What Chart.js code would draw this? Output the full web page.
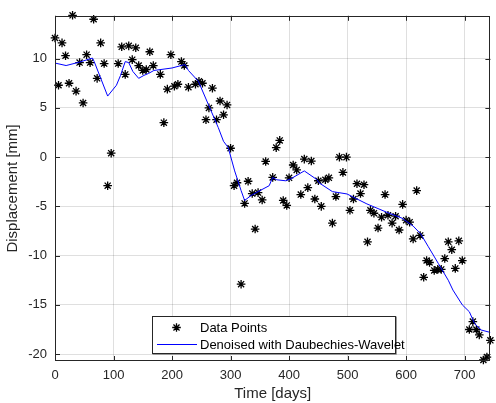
<!DOCTYPE html>
<html><head><meta charset="utf-8">
<script src="https://cdn.jsdelivr.net/npm/chart.js@4.4.1/dist/chart.umd.min.js"></script>
<style>html,body{margin:0;padding:0;background:#fff;}canvas{display:block;}</style>
</head><body>
<canvas id="c" width="496" height="403"></canvas>
<script>
const days = [0,6,12,18,24,30,36,42,48,54,60,66,72,78,84,90,96,108,114,120,126,132,138,143,150,156,162,168,180,186,192,198,204,210,216,221,228,240,246,252,258,263,269,276,282,288,294,300,306,311,318,324,330,337,342,347,354,360,372,378,384,390,396,400,407,413,420,426,432,438,444,450,455,462,468,474,480,486,492,498,504,510,516,522,528,534,539,545,552,558,564,569,576,582,588,594,600,606,612,618,624,630,635,640,648,654,660,666,672,678,684,690,696,708,714,720,725,732,738,744];
const displacement = [12.1,7.3,11.6,10.3,7.5,14.4,6.7,9.6,5.5,10.4,9.6,14.0,8.0,11.6,9.5,-2.9,0.4,9.5,11.2,8.4,11.3,9.9,11.1,9.3,8.8,8.9,10.7,9.3,8.4,3.5,6.9,10.4,7.2,7.4,9.7,9.3,7.1,7.4,7.7,7.5,3.8,5.0,7.0,3.8,5.7,4.3,5.3,0.9,-2.9,-2.6,-12.9,-4.7,-2.45,-3.7,-7.3,-3.6,-4.35,-0.44,-2.06,0.97,1.7,-4.4,-4.9,-2.1,-0.8,-1.3,-3.8,-0.2,-3.1,-0.4,-4.25,-2.4,-5.0,-2.3,-2.1,-6.7,-4.0,0.0,-1.55,0.0,-5.4,-4.25,-2.7,-3.7,-2.8,-8.6,-5.4,-5.7,-7.2,-6.1,-3.8,-5.9,-6.7,-6.0,-7.4,-4.8,-6.4,-6.6,-8.3,-3.4,-7.95,-12.2,-10.5,-10.7,-11.5,-11.4,-11.4,-10.3,-8.6,-9.4,-11.3,-8.5,-10.5,-17.5,-16.7,-17.5,-18.05,-20.6,-20.3,-18.6];
const denoisedDays = [0,19,42,64,67,90,105,112,120,126,133,143,152,160,169,200,222,228,245,262,279,288,296,307,318,324,335,347,366,372,379,394,403,426,448,451,474,499,516,533,567,593,612,625,638,655,672,680,696,708,717,728,744];
const denoised = [9.55,9.3,9.65,10.06,9.7,6.2,7.3,8.3,9.7,9.6,8.7,8.0,8.3,8.5,8.8,9.05,9.4,8.8,7.7,5.35,3.0,1.6,0.97,-1.4,-3.4,-4.4,-3.9,-3.5,-2.9,-2.06,-2.3,-2.4,-2.2,-1.4,-2.3,-2.6,-3.5,-3.74,-4.25,-4.75,-5.6,-6.2,-7.0,-7.8,-9.1,-10.8,-12.5,-13.5,-15.0,-15.7,-16.9,-17.55,-17.8];
const xTicks = [0,100,200,300,400,500,600,700];
const yTicks = [-20,-15,-10,-5,0,5,10];
const xLabel = 'Time [days]';
const yLabel = 'Displacement [mm]';
const legendLabels = ['Data Points','Denoised with Daubechies-Wavelet'];

const AX = '#262626';
const FONT = "'Liberation Sans', Arial, Helvetica, sans-serif";

const boxPlugin = {
  id: 'box',
  afterDraw(chart) {
    const {ctx, chartArea: a, scales} = chart;
    ctx.save();
    ctx.strokeStyle = AX;
    ctx.lineWidth = 1;
    ctx.beginPath();
    const tl = 5;
    scales.x.ticks.forEach(t => {
      const px = Math.round(scales.x.getPixelForValue(t.value)) + 0.5;
      ctx.moveTo(px, a.bottom); ctx.lineTo(px, a.bottom - tl);
      ctx.moveTo(px, a.top); ctx.lineTo(px, a.top + tl);
    });
    scales.y.ticks.forEach(t => {
      const py = Math.round(scales.y.getPixelForValue(t.value)) + 0.5;
      ctx.moveTo(a.left, py); ctx.lineTo(a.left + tl, py);
      ctx.moveTo(a.right, py); ctx.lineTo(a.right - tl, py);
    });
    ctx.stroke();
    ctx.strokeRect(Math.round(a.left) + 0.5, Math.round(a.top) + 0.5, Math.round(a.right - a.left) - 1, Math.round(a.bottom - a.top) - 1);
    ctx.restore();

    // legend
    const L = 152.5, T = 316.5, W = 243, H = 37;
    ctx.save();
    ctx.fillStyle = '#fff';
    ctx.fillRect(L, T, W, H);
    ctx.strokeStyle = AX;
    ctx.lineWidth = 1;
    ctx.strokeRect(L, T, W, H);
    ctx.strokeStyle = '#9a9a9a';
    ctx.beginPath(); ctx.moveTo(L, T + H + 1); ctx.lineTo(L + W + 1, T + H + 1); ctx.lineTo(L + W + 1, T); ctx.stroke();
    const sx = 176.5, sy = 327.5, r = 4.3;
    ctx.strokeStyle = '#000'; ctx.lineWidth = 1.3;
    ctx.beginPath();
    ctx.moveTo(sx - r, sy); ctx.lineTo(sx + r, sy);
    ctx.moveTo(sx, sy - r); ctx.lineTo(sx, sy + r);
    const d = r * 0.707;
    ctx.moveTo(sx - d, sy - d); ctx.lineTo(sx + d, sy + d);
    ctx.moveTo(sx - d, sy + d); ctx.lineTo(sx + d, sy - d);
    ctx.stroke();
    ctx.strokeStyle = '#0000ff'; ctx.lineWidth = 1;
    ctx.beginPath(); ctx.moveTo(157, 344.5); ctx.lineTo(197, 344.5); ctx.stroke();
    ctx.fillStyle = '#000';
    ctx.font = '13px ' + FONT;
    ctx.textBaseline = 'middle';
    ctx.textAlign = 'left';
    ctx.fillText(legendLabels[0], 200, 328);
    ctx.fillText(legendLabels[1], 200, 345);
    ctx.restore();
  }
};

new Chart(document.getElementById('c'), {
  type: 'scatter',
  data: {
    datasets: [
      {
        label: legendLabels[0],
        data: days.map((d, i) => ({x: d, y: displacement[i]})),
        pointStyle: 'star',
        pointRadius: 4.3,
        pointBorderColor: '#000',
        pointBackgroundColor: '#000',
        pointBorderWidth: 1.3,
        clip: false,
        order: 2
      },
      {
        type: 'line',
        label: legendLabels[1],
        data: denoisedDays.map((d, i) => ({x: d, y: denoised[i]})),
        borderColor: '#0000ff',
        borderWidth: 1,
        pointRadius: 0,
        tension: 0,
        fill: false,
        order: 1
      }
    ]
  },
  options: {
    responsive: false,
    animation: false,
    devicePixelRatio: 1,
    layout: {padding: {top: 14, right: 2, left: 0, bottom: 0}},
    plugins: {legend: {display: false}, tooltip: {enabled: false}},
    scales: {
      x: {
        type: 'linear', min: 0, max: 744,
        afterBuildTicks: s => { s.ticks = xTicks.map(v => ({value: v})); },
        afterFit: s => { s.height = 42; },
        grid: {color: 'rgba(38,38,38,0.15)', drawTicks: false},
        border: {display: false},
        ticks: {color: AX, font: {family: FONT, size: 13}, padding: 7, maxRotation: 0, autoSkip: false},
        title: {display: true, text: xLabel, color: AX, font: {family: FONT, size: 15}, padding: {top: 0, bottom: 0}}
      },
      y: {
        type: 'linear', min: -20.7, max: 14.35,
        afterBuildTicks: s => { s.ticks = yTicks.map(v => ({value: v})); },
        afterFit: s => { s.width = 55; },
        grid: {color: 'rgba(38,38,38,0.15)', drawTicks: false},
        border: {display: false},
        ticks: {color: AX, font: {family: FONT, size: 13}, padding: 8, autoSkip: false},
        title: {display: true, text: yLabel, color: AX, font: {family: FONT, size: 15}, padding: {top: 4, bottom: 0}}
      }
    }
  },
  plugins: [boxPlugin]
});
</script>
</body></html>
